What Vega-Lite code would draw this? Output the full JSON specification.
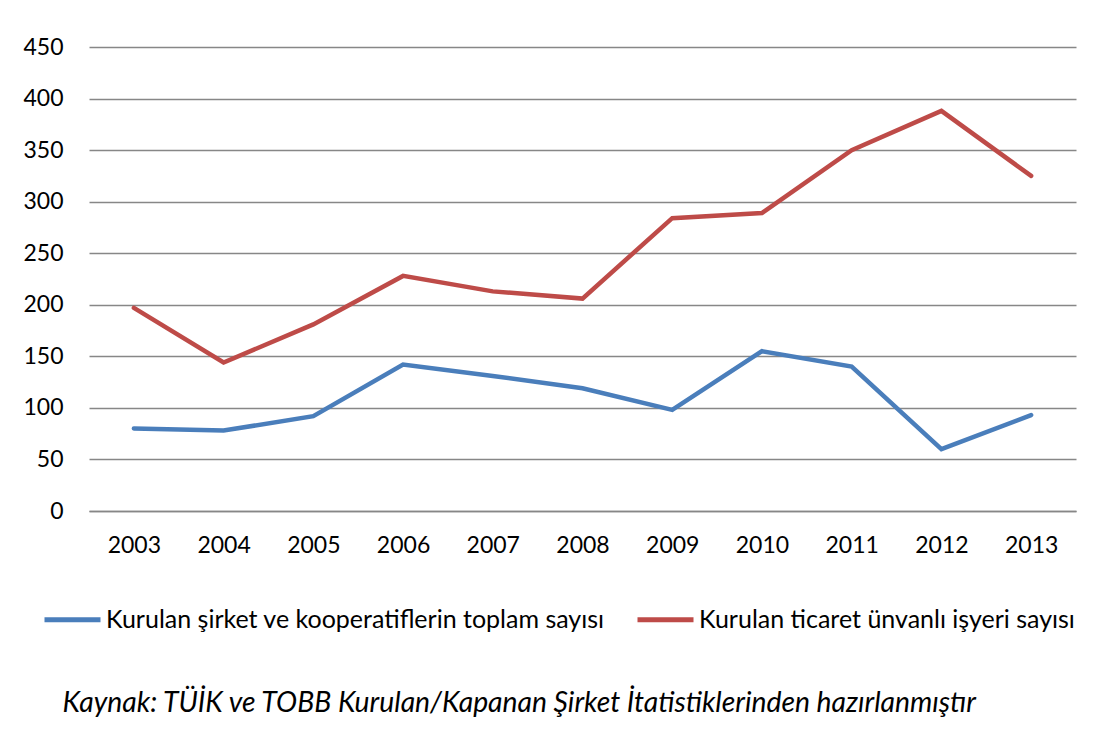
{
  "$schema": "https://vega.github.io/schema/vega-lite/v6.json",
  "width": 987,
  "height": 464,
  "autosize": "none",
  "padding": {"left": 89, "top": 47, "right": 30, "bottom": 229},
  "background": "white",
  "config": {"view": {"stroke": null}, "font": "Lato"},
  "data": {"values": [
    {"year": "2003", "series": "Kurulan şirket ve kooperatiflerin toplam sayısı", "value": 80},
    {"year": "2004", "series": "Kurulan şirket ve kooperatiflerin toplam sayısı", "value": 78},
    {"year": "2005", "series": "Kurulan şirket ve kooperatiflerin toplam sayısı", "value": 92},
    {"year": "2006", "series": "Kurulan şirket ve kooperatiflerin toplam sayısı", "value": 142},
    {"year": "2007", "series": "Kurulan şirket ve kooperatiflerin toplam sayısı", "value": 131},
    {"year": "2008", "series": "Kurulan şirket ve kooperatiflerin toplam sayısı", "value": 119},
    {"year": "2009", "series": "Kurulan şirket ve kooperatiflerin toplam sayısı", "value": 98},
    {"year": "2010", "series": "Kurulan şirket ve kooperatiflerin toplam sayısı", "value": 155},
    {"year": "2011", "series": "Kurulan şirket ve kooperatiflerin toplam sayısı", "value": 140},
    {"year": "2012", "series": "Kurulan şirket ve kooperatiflerin toplam sayısı", "value": 60},
    {"year": "2013", "series": "Kurulan şirket ve kooperatiflerin toplam sayısı", "value": 93},
    {"year": "2003", "series": "Kurulan ticaret ünvanlı işyeri sayısı", "value": 197},
    {"year": "2004", "series": "Kurulan ticaret ünvanlı işyeri sayısı", "value": 144},
    {"year": "2005", "series": "Kurulan ticaret ünvanlı işyeri sayısı", "value": 181},
    {"year": "2006", "series": "Kurulan ticaret ünvanlı işyeri sayısı", "value": 228},
    {"year": "2007", "series": "Kurulan ticaret ünvanlı işyeri sayısı", "value": 213},
    {"year": "2008", "series": "Kurulan ticaret ünvanlı işyeri sayısı", "value": 206},
    {"year": "2009", "series": "Kurulan ticaret ünvanlı işyeri sayısı", "value": 284},
    {"year": "2010", "series": "Kurulan ticaret ünvanlı işyeri sayısı", "value": 289},
    {"year": "2011", "series": "Kurulan ticaret ünvanlı işyeri sayısı", "value": 350},
    {"year": "2012", "series": "Kurulan ticaret ünvanlı işyeri sayısı", "value": 388},
    {"year": "2013", "series": "Kurulan ticaret ünvanlı işyeri sayısı", "value": 325}
  ]},
  "mark": {"type": "line", "strokeWidth": 4.5, "strokeCap": "round", "strokeJoin": "miter"},
  "encoding": {
    "x": {
      "field": "year", "type": "ordinal",
      "scale": {"type": "point", "padding": 0.5},
      "axis": {
        "labelAngle": 0, "labelFontSize": 23, "labelColor": "#000000", "labelPadding": 23,
        "ticks": false, "domain": true, "domainColor": "#878787", "domainWidth": 1.5,
        "title": "Kaynak: TÜİK ve TOBB Kurulan/Kapanan Şirket İtatistiklerinden hazırlanmıştır",
        "titleFontStyle": "italic", "titleFontWeight": "normal", "titleFontSize": 28.3,
        "titleColor": "#000000", "titleAnchor": "start", "titleAlign": "left",
        "titleBaseline": "middle", "titleX": -27, "titleY": 192
      }
    },
    "y": {
      "field": "value", "type": "quantitative",
      "scale": {"domain": [0, 450]},
      "axis": {
        "values": [0, 50, 100, 150, 200, 250, 300, 350, 400, 450],
        "labelFontSize": 23, "labelColor": "#000000", "labelPadding": 26,
        "ticks": false, "domain": false, "grid": true,
        "gridColor": "#878787", "gridWidth": 1.5, "title": null
      }
    },
    "color": {
      "field": "series", "type": "nominal",
      "scale": {
        "domain": ["Kurulan şirket ve kooperatiflerin toplam sayısı", "Kurulan ticaret ünvanlı işyeri sayısı"],
        "range": ["#4A7EBB", "#BE4B48"]
      },
      "legend": {
        "title": null, "orient": "none", "direction": "horizontal", "columns": 2,
        "legendX": -47, "legendY": 542,
        "symbolType": "stroke", "symbolSize": 3136, "symbolStrokeWidth": 5,
        "labelFontSize": 25, "labelColor": "#000000", "labelOffset": 3,
        "columnPadding": 22, "labelLimit": 700
      }
    }
  }
}
